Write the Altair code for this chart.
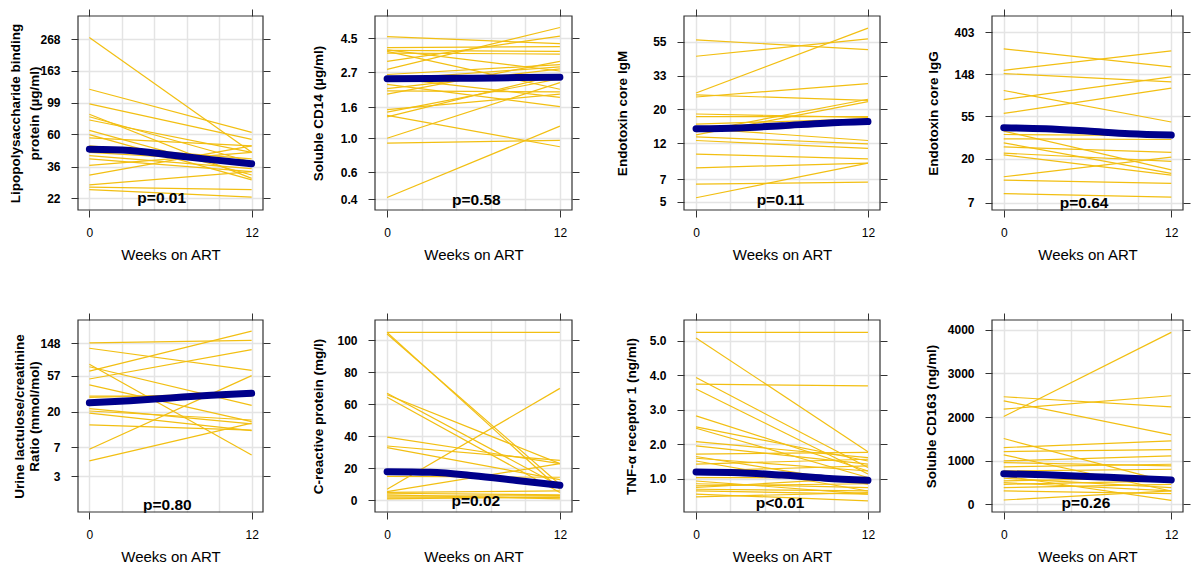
import altair as alt
import pandas as pd

# ---------------- data ----------------
grid_weeks = [0, 2.4, 4.8, 7.2, 9.6, 12]
end_weeks = [0, 12]
smooth_weeks = [0, 3, 6, 9, 12]

# 1 Lipopolysaccharide binding protein
lbp_w0 = [275, 122, 97, 82.4, 79.2, 75.3, 64.0, 59.9, 56.9, 50.1, 45.3, 43.0, 40.9, 36.9, 31.7, 27.2, 26.2, 25.2]
lbp_w12 = [45.3, 62.0, 55.5, 30.1, 38.9, 45.3, 31.7, 29.4, 50.1, 40.9, 38.9, 35.1, 33.4, 45.3, 50.1, 33.4, 25.2, 22.4]
lbp_smooth = [47.6, 46.7, 43.4, 40.4, 37.9]
lbp_ticks = [22, 36, 60, 99, 163, 268]

# 2 Soluble CD14
cd14_w0 = [4.61, 3.91, 3.78, 3.69, 3.60, 3.18, 2.82, 2.61, 2.49, 2.43, 2.25, 2.11, 2.04, 1.94, 1.54, 1.48, 1.41, 1.38, 1.00, 0.93, 0.41, 3.75]
cd14_w12 = [4.15, 3.97, 2.75, 2.09, 3.55, 4.65, 5.29, 3.03, 1.85, 2.93, 1.61, 2.84, 2.01, 3.18, 1.94, 2.45, 0.88, 2.61, 2.31, 0.97, 1.20, 3.69]
cd14_smooth = [2.45, 2.46, 2.47, 2.49, 2.50]
cd14_ticks = [0.4, 0.6, 1.0, 1.6, 2.7, 4.5]

# 3 Endotoxin core IgM
igm_w0 = [56.5, 44.2, 25.5, 24.0, 18.6, 17.9, 16.0, 15.0, 14.2, 13.6, 13.2, 12.5, 10.2, 8.3, 6.5, 5.3, 24.8]
igm_w12 = [48.8, 57.3, 67.4, 29.3, 17.7, 17.9, 17.3, 12.5, 23.2, 22.4, 11.9, 11.1, 9.5, 8.9, 6.7, 8.9, 22.8]
igm_smooth = [14.9, 15.1, 15.6, 16.2, 16.6]
igm_ticks = [5, 7, 12, 20, 33, 55]

# 4 Endotoxin core IgG
igg_w0 = [272, 163, 151, 101, 81.4, 58.5, 38.5, 32.0, 29.1, 26.4, 22.8, 21.9, 13.0, 12.0, 8.7, 35.5]
igg_w12 = [177, 259, 124, 47.8, 139.5, 107, 15.3, 31.5, 14.1, 23.2, 18.7, 13.5, 20.7, 11.1, 8.0, 34.6]
igg_smooth = [41.7, 40.7, 38.5, 36.1, 35.0]
igg_ticks = [7, 20, 55, 148, 403]

# 5 Urine lactulose/creatinine ratio
lcr_w0 = [150, 128, 79.8, 74.4, 65.4, 51.9, 43.8, 31.5, 30.3, 21.8, 20.3, 19.1, 13.5, 6.6, 4.7]
lcr_w12 = [161, 66.7, 5.6, 24.0, 211, 123, 14.9, 31.5, 34.1, 13.9, 15.6, 11.4, 11.6, 57.4, 14.2]
lcr_smooth = [25.8, 27.5, 29.8, 32.2, 34.1]
lcr_ticks = [3, 7, 20, 57, 148]

# 6 C-reactive protein
crp_w0 = [105, 105, 104, 67, 66, 64.5, 39.5, 34, 33, 7, 5.5, 15, 18, 4.5, 2.7, 1.6, 1.0, 3.5, 5]
crp_w12 = [105, 7, 10, 9, 23, 5, 23, 25, 13, 70, 23, 14.5, 11, 3.5, 3, 1.8, 2.2, 1.0, 6]
crp_smooth = [18.0, 17.6, 15.5, 12.5, 9.5]
crp_ticks = [0, 20, 40, 60, 80, 100]

# 7 TNF-alpha receptor 1
tnf_w0 = [5.24, 5.08, 3.74, 3.93, 3.6, 2.82, 2.5, 2.46, 2.07, 1.95, 1.71, 1.64, 1.59, 1.51, 1.42, 1.22, 1.03, 0.93, 0.85, 0.79, 0.74, 0.69, 0.64, 0.55, 0.47]
tnf_w12 = [5.24, 1.78, 3.69, 1.32, 1.13, 1.22, 1.51, 1.03, 1.61, 1.42, 1.76, 0.84, 1.22, 0.64, 1.56, 1.37, 1.03, 0.55, 0.74, 0.85, 1.03, 0.64, 0.55, 0.35, 0.59]
tnf_smooth = [1.19, 1.17, 1.10, 1.01, 0.95]
tnf_ticks = [1, 2, 3, 4, 5]

# 8 Soluble CD163
cd163_w0 = [2012, 2464, 2372, 2181, 1507, 1300, 1209, 1132, 995, 956, 857, 765, 650, 597, 536, 497, 459, 383, 306, 99]
cd163_w12 = [3940, 2234, 1591, 2487, 497, 1454, 1255, 306, 1109, 880, 918, 803, 92, 383, 612, 306, 536, 459, 245, 306]
cd163_smooth = [700, 675, 640, 595, 560]
cd163_ticks = [0, 1000, 2000, 3000, 4000]

p_labels = ["p=0.01", "p=0.58", "p=0.11", "p=0.64", "p=0.80", "p=0.02", "p<0.01", "p=0.26"]
p_weeks = [5.35, 6.2, 5.9, 5.76, 5.77, 6.16, 5.87, 5.89]

y_titles = [
    ["Lipopolysaccharide binding", "protein (µg/ml)"],
    "Soluble CD14 (µg/ml)",
    "Endotoxin core IgM",
    "Endotoxin core IgG",
    ["Urine lactulose/creatinine", "Ratio (mmol/mol)"],
    "C-reactive protein (mg/l)",
    "TNF-α receptor 1 (ng/ml)",
    "Soluble CD163 (ng/ml)",
]

# ---------------- style ----------------
YELLOW = "#f2bf12"
BLUE = "#00008b"
FRAME = "#333333"
GRID = "#e4e4e4"
FONT = "Liberation Sans"

col_widths = [185, 197, 196, 191]
row_heights = [194, 192]

panels_cfg = [
    dict(w0=lbp_w0, w12=lbp_w12, sm=lbp_smooth, ticks=lbp_ticks, dom=[18.3, 386], log=True, fmt="d", tx=-63, lh=19, pdy=12),
    dict(w0=cd14_w0, w12=cd14_w12, sm=cd14_smooth, ticks=cd14_ticks, dom=[0.34, 6.29], log=True, fmt=".1f", tx=-57, lh=16, pdy=10),
    dict(w0=igm_w0, w12=igm_w12, sm=igm_smooth, ticks=igm_ticks, dom=[4.41, 80.8], log=True, fmt="d", tx=-62, lh=16, pdy=10),
    dict(w0=igg_w0, w12=igg_w12, sm=igg_smooth, ticks=igg_ticks, dom=[5.9, 593], log=True, fmt="d", tx=-59, lh=16, pdy=7),
    dict(w0=lcr_w0, w12=lcr_w12, sm=lcr_smooth, ticks=lcr_ticks, dom=[1.05, 293], log=True, fmt="d", tx=-58.5, lh=15, pdy=7),
    dict(w0=crp_w0, w12=crp_w12, sm=crp_smooth, ticks=crp_ticks, dom=[-7.2, 112.7], log=False, fmt="d", tx=-57, lh=16, pdy=11),
    dict(w0=tnf_w0, w12=tnf_w12, sm=tnf_smooth, ticks=tnf_ticks, dom=[0.03, 5.6], log=False, fmt=".1f", tx=-53, lh=16, pdy=9),
    dict(w0=cd163_w0, w12=cd163_w12, sm=cd163_smooth, ticks=cd163_ticks, dom=[-176, 4223], log=False, fmt="d", tx=-61, lh=16, pdy=9),
]

IS_END = "datum.value === 0 || datum.value === 12"


def make_panel(i, cfg):
    width = col_widths[i % 4]
    height = row_heights[i // 4]
    ids, weeks, vals = [], [], []
    for k, (a, b) in enumerate(zip(cfg["w0"], cfg["w12"])):
        ids += [k, k]
        weeks += end_weeks
        vals += [a, b]
    lines = pd.DataFrame({"id": ids, "week": weeks, "value": vals})
    smooth = pd.DataFrame({"week": smooth_weeks, "value": cfg["sm"]})
    ptab = pd.DataFrame({"week": [p_weeks[i]], "label": [p_labels[i]]})

    xs = alt.Scale(domain=[-0.84, 12.84], nice=False, zero=False)
    ys = alt.Scale(type="log" if cfg["log"] else "linear", domain=cfg["dom"], nice=False, zero=False)

    x_bottom = alt.Axis(
        orient="bottom", values=grid_weeks, format="d", grid=True, gridColor=GRID, gridWidth=1.5,
        domain=False, tickSize=7, tickColor=FRAME,
        tickOpacity={"condition": {"test": IS_END, "value": 1}, "value": 0},
        labelExpr=f"({IS_END}) ? datum.label : ''",
        labelFont=FONT, labelFontSize=12, labelColor="black", labelBaseline="middle",
        labelPadding=15, labelOverlap=False, labelFlush=False,
        title="Weeks on ART", titleFont=FONT, titleFontSize=15, titleFontWeight="normal",
        titleColor="black", titleBaseline="middle", titleY=44,
    )
    y_left = alt.Axis(
        orient="left", values=cfg["ticks"], format=cfg["fmt"], grid=True, gridColor=GRID, gridWidth=1.5,
        domain=False, tickSize=7, tickColor=FRAME,
        labelFont=FONT, labelFontSize=12, labelFontWeight="bold", labelColor="black",
        labelPadding=11, labelOverlap=False,
        title=y_titles[i], titleFont=FONT, titleFontSize=13.5, titleFontWeight="bold",
        titleColor="black", titleX=cfg["tx"], titleY=height / 2, titleAngle=270,
        titleBaseline="middle", titleAlign="center", titleLineHeight=cfg["lh"],
    )
    x_top = alt.Axis(orient="top", values=end_weeks, grid=False, labels=False, domain=False,
                     tickSize=7, tickColor=FRAME, title=None)
    y_right = alt.Axis(orient="right", values=cfg["ticks"], grid=False, labels=False, domain=False,
                       tickSize=7, tickColor=FRAME, title=None)

    a = alt.Chart(lines).mark_line(color=YELLOW, strokeWidth=1.2).encode(
        x=alt.X("week:Q", scale=xs, axis=x_bottom),
        y=alt.Y("value:Q", scale=ys, axis=y_left),
        detail="id:N",
    )
    b = alt.Chart(smooth).mark_line(color=BLUE, strokeWidth=7, strokeCap="round", interpolate="monotone").encode(
        x=alt.X("week:Q", scale=xs, axis=x_top),
        y=alt.Y("value:Q", scale=ys, axis=y_right),
    )
    c = alt.Chart(ptab).mark_text(font=FONT, fontSize=15.5, fontWeight="bold", color="black",
                                  align="center", baseline="middle").encode(
        x=alt.X("week:Q", scale=xs, axis=None),
        y=alt.value(height - cfg["pdy"]),
        text="label:N",
    )
    # panel frame
    f = alt.Chart(ptab).mark_rect(fillOpacity=0, stroke=FRAME, strokeWidth=1.2).encode(
        x=alt.value(0), x2=alt.value(width), y=alt.value(0), y2=alt.value(height),
    )
    return alt.layer(a, b, c, f).resolve_scale(x="independent", y="independent").properties(
        width=width, height=height)


panels = [make_panel(i, cfg) for i, cfg in enumerate(panels_cfg)]

chart = alt.concat(*panels, columns=4, spacing={"row": 110, "column": 112}, bounds="flush").properties(
    padding=0
).configure_view(stroke="transparent", strokeWidth=0)

chart.save("out.html", embed_options={"renderer": "svg", "actions": False})
